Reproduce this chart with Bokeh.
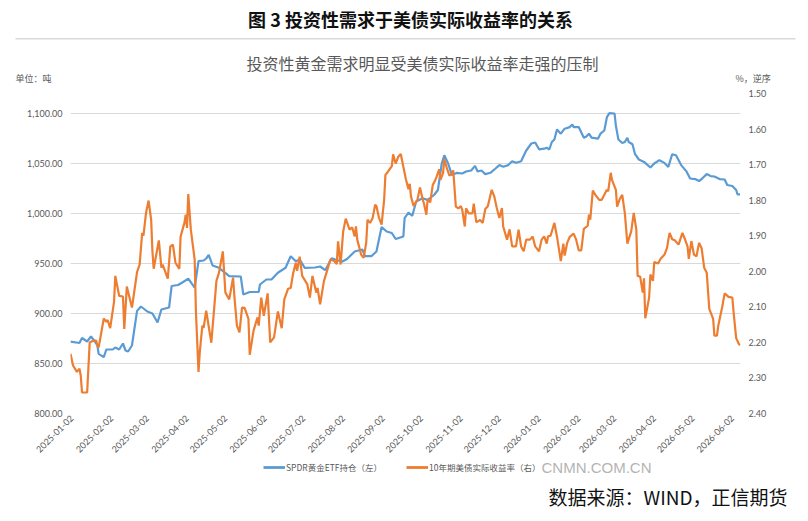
import pandas as pd
from math import pi
from bokeh.plotting import figure
from bokeh.layouts import column
from bokeh.models import (Range1d, LinearAxis, FixedTicker, NumeralTickFormatter,
                          DatetimeTickFormatter, Label, Legend, LegendItem, BoxAnnotation)
from bokeh.embed import file_html
from bokeh.resources import INLINE

# ---------------- data ----------------
START = "2025-01-01"
# SPDR gold ETF holdings (tonnes), vertices: days since START
spdr_days = [0,7,9,13,16,19,21,22,26,28,33,35,38,41,43,45,48,52,55,60,64,68,71,77,79,84,88,92,97,100,
             104,106,108,111,116,124,133,135,140,147,148,153,157,162,168,172,176,179,183,191,195,199,204,212,216,222,228,230,235,239,
             243,247,251,254,260,261,264,267,270,275,279,284,287,290,292,295,298,302,306,309,313,316,318,321,324,328,332,335,338,342,
             345,348,352,356,360,363,366,370,372,374,376,378,380,383,386,390,392,393,397,401,403,405,407,412,414,417,419,421,425,426,
             428,431,433,435,436,439,441,444,448,453,456,460,464,467,470,473,477,481,484,488,491,494,497,500,503,507,511,513,517,520,
             521,523]
spdr_tons = [871.8,870.5,875.5,872,877,872,868,859.6,856.3,864,864,866,864,870,863,862,868,902.6,907,902,
             900,891,904,906,927.5,928.5,931.5,934.8,925.8,952.3,953,955,958.6,948,945.7,937.4,937,919,921.5,921.5,
             929,934,934,940.8,945.7,957.3,952.3,954,945.7,946,947,943.3,955.3,951.7,954.5,962,964,957.3,957.3,962,
             986.4,982,980.5,974.5,977,995.4,1001,997.7,1012,1015.2,1013.6,1018.5,1023.5,1050,1058.3,1050,1038.4,1040.7,1040,1042,
             1043,1047.6,1042,1043,1039.4,1040.7,1045,1048.4,1046.8,1048.4,1052.3,1050.7,1052.3,1063,1070,1071,1064.2,1064.8,1065.8,1064,
             1071.5,1074,1084,1079.8,1084.8,1086.4,1089,1086.4,1086.4,1075.8,1077,1079.8,1075.8,1074.8,1079.8,1083,1096.3,1100.3,1100,1088,
             1074,1070.5,1071.5,1075.8,1071.5,1069.2,1059.3,1054,1051.6,1046,1050,1053.3,1050.6,1046.6,1059.3,1058.3,1048.4,1042.4,1035,1034.4,
             1032.4,1035.7,1039.4,1037.4,1037,1034.4,1034,1028.5,1027.5,1023.5,1019.2,1019.2]

# 10Y US real yield (%), vertices: days since START
tips_days = [0,2,5,7,8,9,13,15,18,20,21,22,26,28,29,31,34,35,38,41,
             42,44,48,52,54,56,57,59,61,63,64,65,69,71,72,76,78,80,82,85,
             86,89,90,91,92,94,97,98,100,101,103,104,106,110,114,116,119,121,124,127,
             128,130,132,134,136,139,140,143,146,147,149,151,154,156,159,162,165,167,170,172,
             174,176,177,179,181,185,187,189,192,193,195,198,200,203,206,208,209,211,213,215,
             218,220,222,223,224,227,229,231,232,234,236,238,239,241,243,245,246,248,251,252,
             254,256,258,260,262,264,265,266,268,271,273,275,276,278,279,281,283,285,286,288,
             289,291,292,294,296,298,299,301,303,305,306,308,309,311,314,315,317,320,322,324,
             326,329,331,333,335,337,338,341,343,345,348,350,352,354,356,359,361,363,366,368,
             370,372,373,375,378,380,383,385,386,388,390,393,395,397,399,401,404,405,406,408,
             410,413,415,417,419,420,422,423,426,427,429,431,433,435,438,440,442,443,445,447,
             448,449,452,453,455,456,459,461,464,466,467,468,470,472,475,478,480,482,483,485,
             487,489,491,493,495,497,499,502,503,505,506,509,511,514,517,518,520,522,523]
tips_yield = [2.232,2.265,2.283,2.274,2.293,2.341,2.341,2.20,2.195,2.195,2.209,2.214,2.133,2.142,2.137,2.160,2.086,2.013,2.069,2.071,
              2.162,2.043,2.102,2.002,1.981,1.892,1.90,1.836,1.801,1.855,1.944,1.993,1.913,1.990,1.981,2.021,1.930,1.925,1.976,1.993,
              1.902,1.864,1.841,1.878,1.783,1.883,1.967,2.116,2.283,2.227,2.153,2.159,2.111,2.201,2.027,2.004,1.944,2.060,2.079,2.018,
              2.069,2.153,2.172,2.102,2.103,2.134,2.235,2.167,2.130,2.153,2.074,2.125,2.062,2.200,2.186,2.113,2.160,2.079,2.049,2.047,
              2.004,1.976,1.999,1.959,2.013,2.037,2.074,2.013,2.060,2.047,2.093,2.027,2.004,1.967,1.971,1.98,1.916,1.981,1.888,1.852,
              1.883,1.876,1.902,1.874,1.911,1.953,1.962,1.920,1.855,1.864,1.850,1.813,1.817,1.850,1.869,1.799,1.729,1.72,1.704,1.671,
              1.697,1.678,1.670,1.706,1.741,1.769,1.754,1.790,1.816,1.799,1.764,1.797,1.808,1.841,1.797,1.806,1.757,1.743,1.734,1.713,
              1.743,1.724,1.685,1.710,1.731,1.726,1.716,1.818,1.823,1.817,1.827,1.874,1.823,1.837,1.837,1.81,1.862,1.856,1.864,1.825,
              1.817,1.771,1.789,1.822,1.85,1.822,1.874,1.911,1.882,1.930,1.930,1.883,1.930,1.944,1.911,1.911,1.902,1.930,1.944,1.911,
              1.902,1.922,1.902,1.9,1.864,1.902,1.971,1.922,1.956,1.92,1.903,1.894,1.911,1.941,1.941,1.881,1.872,1.841,1.855,1.773,
              1.785,1.799,1.799,1.785,1.771,1.775,1.723,1.743,1.771,1.818,1.797,1.785,1.836,1.922,1.888,1.836,1.883,2.013,2.015,2.060,
              2.02,2.132,2.074,2.009,2.027,1.974,1.978,1.965,1.953,1.934,1.911,1.892,1.91,1.913,1.925,1.892,1.91,1.93,1.965,1.915,
              1.953,1.958,1.92,1.935,1.99,2.004,2.106,2.134,2.181,2.181,2.153,2.102,2.062,2.072,2.074,2.116,2.188,2.204,2.208]

x_tick_labels = ["2025-01-02","2025-02-02","2025-03-02","2025-04-02","2025-05-02","2025-06-02",
                 "2025-07-02","2025-08-02","2025-09-02","2025-10-02","2025-11-02","2025-12-02",
                 "2026-01-02","2026-02-02","2026-03-02","2026-04-02","2026-05-02","2026-06-02"]
left_ticks = [800, 850, 900, 950, 1000, 1050, 1100]
right_ticks = [1.5, 1.6, 1.7, 1.8, 1.9, 2.0, 2.1, 2.2, 2.3, 2.4]

title_text = "图 3 投资性需求于美债实际收益率的关系"
subtitle_text = "投资性黄金需求明显受美债实际收益率走强的压制"
left_unit = "单位：吨"
right_unit = "%，逆序"
series_names = ["SPDR黄金ETF持仓（左）", "10年期美债实际收益率（右）"]
series_colors = ["#5b9bd5", "#ed7d31"]
watermark = "CNMN.COM.CN"
source_text = "数据来源：WIND，正信期货"

# ---------------- layout constants ----------------
W = 808
HEAD_H = 84            # header: canvas y 0..84
MAIN_BOTTOM = 458      # main figure: canvas y 84..458
FOOT_H = 521 - MAIN_BOTTOM
FL, FR, FT, FB = 70, 740, 93, 415   # plot frame in canvas pixels
CJK = "Noto Sans CJK SC"
NUM = "Lato"
GREY = "#595959"


def blank_fig(height, y_top):
    f = figure(width=W, height=height, output_backend="svg", toolbar_location=None,
               x_range=Range1d(0, W), y_range=Range1d(y_top + height, y_top),
               x_axis_location=None, y_axis_location=None, frame_align=False,
               min_border=0, min_border_left=0, min_border_right=0,
               min_border_top=0, min_border_bottom=0)
    f.outline_line_color = None
    f.xgrid.visible = False
    f.ygrid.visible = False
    f.background_fill_color = "white"
    f.border_fill_color = "white"
    return f


def add_text(f, x, y, text, size, color, align="left", style="normal", font=CJK):
    f.add_layout(Label(x=x, y=y, text=text, text_font=font, text_font_size=f"{size}px",
                       text_color=color, text_align=align, text_baseline="middle",
                       text_font_style=style))


# ---------------- header ----------------
head = blank_fig(HEAD_H, 0)
add_text(head, 410, 18, title_text, 18, "#111111", align="center", style="bold")
head.add_layout(BoxAnnotation(left=15, right=795, top=37.5, bottom=39,
                              fill_color="#d9d9d9", fill_alpha=1, line_color=None))
add_text(head, 422, 62, subtitle_text, 16, GREY, align="center")
add_text(head, 15, 78, left_unit, 9, GREY)
add_text(head, 735, 78, right_unit, 9, GREY)

# ---------------- main chart ----------------
spdr_dates = pd.Timestamp(START) + pd.to_timedelta(spdr_days, unit="D")
tips_dates = pd.Timestamp(START) + pd.to_timedelta(tips_days, unit="D")

p = figure(width=W, height=MAIN_BOTTOM - HEAD_H, x_axis_type="datetime",
           output_backend="svg", toolbar_location=None, frame_align=False,
           x_range=Range1d(pd.Timestamp("2025-01-01"), pd.Timestamp("2026-06-08 09:00")),
           y_range=Range1d(800, 1120),
           min_border_left=FL, min_border_right=W - FR,
           min_border_top=FT - HEAD_H, min_border_bottom=MAIN_BOTTOM - FB)
p.outline_line_color = None
p.background_fill_color = "white"
p.border_fill_color = "white"
p.xgrid.visible = False
p.ygrid.grid_line_color = "#d9d9d9"
p.ygrid.grid_line_width = 1

p.extra_y_ranges = {"r": Range1d(2.40, 1.50)}
ax_r = LinearAxis(y_range_name="r")
p.add_layout(ax_r, "right")

p.yaxis[0].ticker = FixedTicker(ticks=left_ticks)
p.yaxis[0].formatter = NumeralTickFormatter(format="0,0.00")
ax_r.ticker = FixedTicker(ticks=right_ticks)
ax_r.formatter = NumeralTickFormatter(format="0.00")

x_ticks_ms = [pd.Timestamp(s).value // 10**6 for s in x_tick_labels]
p.xaxis.ticker = FixedTicker(ticks=x_ticks_ms)
fmt = "%Y-%m-%d"
p.xaxis.formatter = DatetimeTickFormatter(days=fmt, months=fmt, years=fmt, hours=fmt, hourmin=fmt)
p.xaxis.major_label_orientation = pi / 4

for ax in [p.xaxis[0], p.yaxis[0], ax_r]:
    ax.axis_line_color = None
    ax.major_tick_line_color = None
    ax.minor_tick_line_color = None
    ax.major_tick_out = 0
    ax.major_tick_in = 0
    ax.major_label_text_color = GREY
    ax.major_label_text_font = NUM
    ax.major_label_text_font_size = "9px"
p.yaxis[0].major_label_standoff = 8
ax_r.major_label_standoff = 8
p.xaxis[0].major_label_standoff = 3

p.line(spdr_dates, spdr_tons, line_color=series_colors[0], line_width=2.2)
p.line(tips_dates, tips_yield, line_color=series_colors[1], line_width=2.2, y_range_name="r")

# ---------------- footer (legend, watermark, source) ----------------
foot = blank_fig(FOOT_H, MAIN_BOTTOM)
nan = float("nan")
proxies = [foot.line(x=[nan], y=[nan], line_color=c, line_width=2.8) for c in series_colors]
legend = Legend(items=[LegendItem(label=n, renderers=[r]) for n, r in zip(series_names, proxies)],
                orientation="horizontal", location=(263, 521 - 467 - 6),
                glyph_width=22, glyph_height=12, label_standoff=1, spacing=24,
                padding=0, margin=0, border_line_color=None, background_fill_alpha=0,
                label_text_font=CJK, label_text_font_size="8.5px", label_text_color=GREY,
                label_height=12)
foot.add_layout(legend)
add_text(foot, 541, 467, watermark, 15, "#b4b4b4", font="Liberation Sans")
add_text(foot, 548, 496, source_text, 19, "#111111")

layout = column(head, p, foot, spacing=0)
open("out.html", "w").write(file_html(layout, INLINE))
